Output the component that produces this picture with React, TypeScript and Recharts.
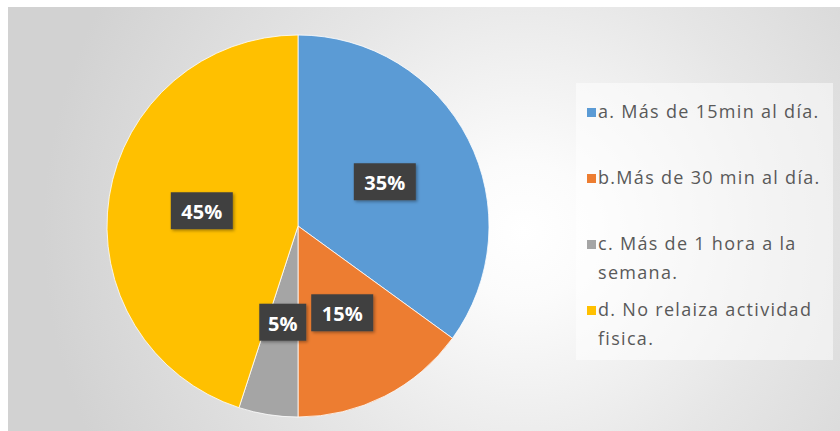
import React from "react"
import { PieChart, Pie, Cell, Legend } from "recharts"

const categories = [
  "a. Más de 15min al día.",
  "b.Más de 30 min al día.",
  "c. Más de 1 hora a la semana.",
  "d. No relaiza actividad fisica.",
]
const values = [35, 15, 5, 45]
const colors = ["#5B9BD5", "#ED7D31", "#A5A5A5", "#FFC000"]

const data = categories.map((name, i) => ({ name, value: values[i] }))

// legend row offsets inside the legend box (first line top)
const legendTops = [14, 80, 146, 212]

const RADIAN = Math.PI / 180
const FONT = "'Open Sans', 'DejaVu Sans', sans-serif"

const renderLabel = (props: any) => {
  const { cx, cy, midAngle, outerRadius, percent } = props
  const r = outerRadius * 0.51
  const x = cx + r * Math.cos(-midAngle * RADIAN)
  const y = cy + r * Math.sin(-midAngle * RADIAN)
  const text = `${Math.round(percent * 100)}%`
  const w = text.length * 15 + 17
  const h = 37
  return (
    <g>
      <rect
        x={x - w / 2}
        y={y - h / 2}
        width={w}
        height={h}
        fill="#404040"
        filter="url(#lblShadow)"
      />
      <text
        x={x}
        y={y + 1}
        fill="#ffffff"
        textAnchor="middle"
        dominantBaseline="central"
        fontFamily={FONT}
        fontWeight={700}
        fontSize={20}
      >
        {text}
      </text>
    </g>
  )
}

const renderLegend = () => (
  <div
    style={{
      width: 257,
      height: 277,
      background: "rgba(255,255,255,0.5)",
      position: "relative",
      fontFamily: FONT,
      fontSize: 18,
      letterSpacing: "1.3px",
      color: "#595959",
    }}
  >
    {categories.map((name, i) => (
      <div
        key={name}
        style={{
          position: "absolute",
          left: 11,
          top: legendTops[i],
          width: 244,
          display: "flex",
          alignItems: "flex-start",
          lineHeight: "29px",
        }}
      >
        <span
          style={{
            width: 9,
            height: 9,
            background: colors[i],
            marginTop: 11,
            marginRight: 2,
            flexShrink: 0,
          }}
        />
        <span style={{ whiteSpace: "normal" }}>{name}</span>
      </div>
    ))}
  </div>
)

export default function App() {
  return (
    <div
      style={{
        position: "absolute",
        left: 8,
        top: 7,
        width: 832,
        height: 424,
        background:
          "radial-gradient(circle at 515px 225px, #ffffff 0px, #fbfbfb 70px, #e6e6e6 260px, #d2d2d2 480px)",
      }}
    >
      <svg width={0} height={0} style={{ position: "absolute" }}>
        <defs>
          <filter id="lblShadow" x="-20%" y="-20%" width="150%" height="150%">
            <feDropShadow dx="1.5" dy="1.5" stdDeviation="1.5" floodColor="#000" floodOpacity="0.35" />
          </filter>
        </defs>
      </svg>
      <PieChart width={832} height={424}>
        <Pie
          data={data}
          dataKey="value"
          nameKey="name"
          cx={285}
          cy={214}
          outerRadius={191}
          startAngle={90}
          endAngle={-270}
          stroke="#ffffff"
          strokeWidth={0.8}
          label={renderLabel}
          labelLine={false}
          isAnimationActive={false}
        >
          {data.map((d, i) => (
            <Cell key={d.name} fill={colors[i]} />
          ))}
        </Pie>
        <Legend
          content={renderLegend}
          wrapperStyle={{ left: 568, top: 76, width: 257, height: 277 }}
        />
      </PieChart>
    </div>
  )
}
